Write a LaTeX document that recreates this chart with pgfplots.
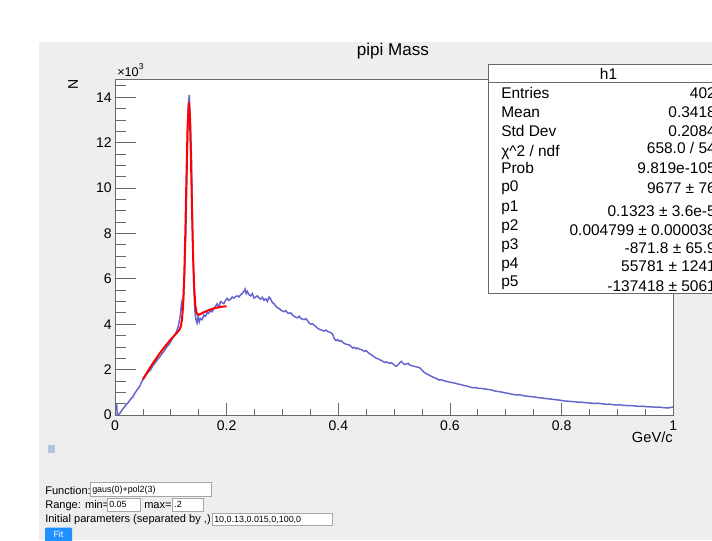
\documentclass[border=0pt]{standalone}
\usepackage{fontspec}
\setmainfont{Liberation Sans}
\usepackage{pgfplots}
\pgfplotsset{compat=1.18}
\definecolor{bggray}{RGB}{238,238,238}
\definecolor{histblue}{RGB}{100,100,205}
\definecolor{framegray}{RGB}{105,105,105}
\definecolor{fitblue}{RGB}{30,144,255}
\definecolor{iconblue}{RGB}{176,196,222}
\newcommand{\fs}[1]{\fontsize{#1}{#1}\selectfont}
\begin{document}
\begin{tikzpicture}
\useasboundingbox (0,0) rectangle (534pt,-405pt);
\clip (0,0) rectangle (534pt,-405pt);
\begin{scope}[x=0.75pt,y=-0.75pt]
\fill[white] (0,0) rectangle (712,540);
\fill[bggray] (39,42) rectangle (712,540);
\coordinate (O) at (115,415);
\end{scope}

\begin{axis}[at={(O)}, anchor=south west, scale only axis,
  width=418.7pt, height=251.8pt,
  xmin=0, xmax=1, ymin=0, ymax=14.79,
  axis background/.style={fill=white},
  axis line style={framegray, line width=0.6pt},
  tick style={framegray, line width=0.6pt},
  tick align=inside,
  xtick=\empty,
  ytick={0,2,4,6,8,10,12,14}, ytick pos=left,
  minor ytick={0.5,1,1.5,2.5,3,3.5,4.5,5,5.5,6.5,7,7.5,8.5,9,9.5,10.5,11,11.5,12.5,13,13.5,14.5},
  major tick length=15.75pt, minor tick length=8.25pt,
  /pgf/number format/assume math mode=true,
  yticklabel style={font=\fs{10.5}, anchor=east, inner sep=0pt, xshift=-2.3pt},
  clip=true]
\addplot[histblue, line width=1.1pt, sharp plot] coordinates {
(0.000,0.00)(0.001,0.48)(0.003,0.47)(0.004,0.02)(0.008,0.05)(0.012,0.20)(0.016,0.33)(0.020,0.45)
(0.024,0.56)(0.028,0.70)(0.032,0.80)(0.036,0.98)(0.040,1.12)(0.044,1.25)(0.048,1.48)(0.052,1.62)
(0.056,1.78)(0.060,1.90)(0.064,2.00)(0.068,2.18)(0.072,2.30)(0.076,2.44)(0.080,2.55)(0.084,2.70)
(0.088,2.82)(0.092,2.98)(0.096,3.08)(0.100,3.24)(0.104,3.42)(0.108,3.55)(0.112,3.80)(0.115,4.10)
(0.117,4.40)(0.119,4.90)(0.121,4.60)(0.123,5.20)(0.125,6.50)(0.127,8.20)(0.129,10.8)(0.131,13.5)
(0.133,14.1)(0.135,13.0)(0.137,11.3)(0.139,7.90)(0.141,5.80)(0.143,4.60)(0.145,4.20)(0.147,4.05)
(0.149,4.35)(0.151,4.10)(0.153,4.25)(0.156,4.20)(0.159,4.40)(0.162,4.35)(0.165,4.50)(0.168,4.48)
(0.171,4.60)(0.174,4.55)(0.177,4.70)(0.180,4.78)(0.183,4.90)(0.186,4.75)(0.189,5.00)(0.192,4.95)
(0.195,4.90)(0.198,5.05)(0.201,5.14)(0.204,5.05)(0.207,5.10)(0.210,5.20)(0.213,5.15)(0.216,5.22)
(0.219,5.25)(0.222,5.20)(0.225,5.30)(0.228,5.35)(0.231,5.45)(0.233,5.55)(0.235,5.35)(0.237,5.45)
(0.240,5.30)(0.243,5.25)(0.246,5.35)(0.249,5.15)(0.252,5.20)(0.255,5.25)(0.258,5.15)(0.261,5.10)
(0.264,5.18)(0.267,5.05)(0.270,5.12)(0.273,5.00)(0.276,5.20)(0.279,5.10)(0.282,4.95)(0.285,4.90)
(0.288,4.80)(0.291,4.72)(0.294,4.70)(0.297,4.62)(0.300,4.58)(0.303,4.55)(0.306,4.60)(0.309,4.50)
(0.312,4.48)(0.315,4.50)(0.318,4.40)(0.321,4.35)(0.324,4.30)(0.327,4.28)(0.330,4.35)(0.333,4.25)
(0.336,4.22)(0.339,4.20)(0.342,4.25)(0.345,4.15)(0.348,4.05)(0.351,4.00)(0.354,4.02)(0.357,3.95)
(0.360,3.90)(0.363,3.82)(0.366,3.78)(0.369,3.75)(0.372,3.72)(0.375,3.70)(0.378,3.74)(0.381,3.68)
(0.384,3.65)(0.387,3.62)(0.390,3.55)(0.393,3.35)(0.396,3.28)(0.399,3.32)(0.402,3.25)(0.405,3.28)
(0.408,3.20)(0.411,3.15)(0.414,3.12)(0.417,3.10)(0.420,3.08)(0.423,3.02)(0.426,2.95)(0.429,2.98)
(0.432,2.92)(0.435,2.95)(0.438,2.90)(0.441,2.88)(0.444,2.85)(0.447,2.80)(0.450,2.84)(0.453,2.76)
(0.456,2.70)(0.459,2.66)(0.462,2.60)(0.465,2.55)(0.468,2.50)(0.471,2.48)(0.474,2.44)(0.477,2.40)
(0.480,2.36)(0.483,2.32)(0.486,2.34)(0.489,2.30)(0.492,2.28)(0.495,2.30)(0.498,2.25)(0.501,2.18)
(0.504,2.15)(0.507,2.22)(0.510,2.30)(0.513,2.36)(0.516,2.28)(0.519,2.22)(0.522,2.25)(0.525,2.28)
(0.528,2.20)(0.531,2.18)(0.534,2.15)(0.537,2.14)(0.540,2.12)(0.543,2.10)(0.546,2.08)(0.549,2.00)
(0.552,1.92)(0.555,1.86)(0.558,1.82)(0.561,1.78)(0.564,1.74)(0.567,1.70)(0.570,1.66)(0.573,1.64)
(0.576,1.60)(0.579,1.56)(0.582,1.54)(0.585,1.55)(0.588,1.52)(0.591,1.50)(0.594,1.48)(0.597,1.46)
(0.600,1.45)(0.605,1.42)(0.610,1.40)(0.615,1.36)(0.620,1.34)(0.625,1.30)(0.630,1.28)(0.635,1.24)
(0.640,1.20)(0.645,1.21)(0.650,1.18)(0.655,1.17)(0.660,1.16)(0.665,1.14)(0.670,1.12)(0.675,1.10)
(0.680,1.06)(0.685,1.04)(0.690,1.02)(0.695,1.00)(0.700,0.97)(0.705,0.95)(0.710,0.92)(0.715,0.90)
(0.720,0.88)(0.725,0.89)(0.730,0.86)(0.735,0.84)(0.740,0.82)(0.745,0.81)(0.750,0.80)(0.755,0.78)
(0.760,0.76)(0.765,0.75)(0.770,0.73)(0.775,0.72)(0.780,0.70)(0.785,0.69)(0.790,0.67)(0.795,0.66)
(0.800,0.64)(0.805,0.62)(0.810,0.61)(0.815,0.60)(0.820,0.59)(0.825,0.58)(0.830,0.56)(0.835,0.57)
(0.840,0.55)(0.845,0.54)(0.850,0.53)(0.855,0.52)(0.860,0.51)(0.865,0.52)(0.870,0.50)(0.875,0.49)
(0.880,0.47)(0.885,0.48)(0.890,0.46)(0.895,0.45)(0.900,0.44)(0.905,0.45)(0.910,0.43)(0.915,0.42)
(0.920,0.41)(0.925,0.42)(0.930,0.40)(0.935,0.39)(0.940,0.38)(0.945,0.39)(0.950,0.37)(0.955,0.36)
(0.960,0.36)(0.965,0.35)(0.970,0.34)(0.975,0.35)(0.980,0.33)(0.985,0.32)(0.990,0.31)(0.995,0.33)
(1.000,0.36)};
\addplot[red, line width=1.5pt, sharp plot] coordinates {
(0.05,1.574)(0.06,1.980)(0.07,2.360)(0.08,2.711)(0.09,3.035)(0.10,3.332)(0.11,3.601)(0.115,3.741)
(0.118,3.910)(0.12,4.206)(0.122,4.854)(0.124,6.101)(0.126,8.062)(0.128,10.494)(0.130,12.684)
(0.1323,13.779)(0.134,13.224)(0.136,11.361)(0.138,8.988)(0.140,6.915)(0.142,5.532)(0.144,4.806)
(0.146,4.508)(0.148,4.419)(0.150,4.415)(0.16,4.535)(0.17,4.640)(0.18,4.717)(0.19,4.766)(0.20,4.788)};
\end{axis}

\begin{axis}[at={(O)}, anchor=south west, scale only axis,
  width=418.7pt, height=251.8pt,
  xmin=0, xmax=1, ymin=0, ymax=14.79,
  axis line style={draw=none},
  tick style={framegray, line width=0.6pt},
  tick align=inside,
  ytick=\empty,
  xtick={0,0.2,0.4,0.6,0.8,1}, xticklabels={0,0.2,0.4,0.6,0.8,1}, xtick pos=bottom,
  minor xtick={0.05,0.1,0.15,0.25,0.3,0.35,0.45,0.5,0.55,0.65,0.7,0.75,0.85,0.9,0.95},
  major tick length=9pt, minor tick length=4.5pt,
  xticklabel style={font=\fs{10.5}, anchor=north, inner sep=0pt, yshift=-4.3pt}]
\addplot[draw=none] coordinates {(0,0)(1,1)};
\end{axis}

\begin{scope}[x=0.75pt,y=-0.75pt]
% labels
\node[font=\fs{12.8}] at (393,51) {pipi Mass};
\node[font=\fs{10.5}, rotate=90] at (73,84) {N};
\node[font=\fs{9.5}, anchor=base west, inner sep=0pt] at (117,76) {×10\raisebox{0.9ex}{\fs{6.5}3}};
\node[font=\fs{11}, anchor=base east, inner sep=0pt] at (673,442.5) {GeV/c};
% stats box
\draw[framegray, line width=0.6pt, fill=white] (488.5,64) rectangle (729,293);
\draw[framegray, line width=0.6pt] (488.5,82) -- (729,82);
\node[font=\fs{11.6}, anchor=base, inner sep=0pt] at (608.5,79.5) {h1};
\begin{scope}[every node/.style={font=\fs{11.6}, inner sep=0pt}]
\node[anchor=base west] at (501,98.3) {Entries};
\node[anchor=base west] at (501,117.5) {Mean};
\node[anchor=base west] at (501,136.5) {Std Dev};
\node[anchor=base west] at (501,156) {χ\^{}2 / ndf};
\node[anchor=base west] at (501,173.3) {Prob};
\node[anchor=base west] at (501,191.7) {p0};
\node[anchor=base west] at (501,211.5) {p1};
\node[anchor=base west] at (501,230.5) {p2};
\node[anchor=base west] at (501,249.3) {p3};
\node[anchor=base west] at (501,268.3) {p4};
\node[anchor=base west] at (501,286.7) {p5};
\node[anchor=base east] at (716,98.3) {402};
\node[anchor=base east] at (716,117.5) {0.3418};
\node[anchor=base east] at (716,136.5) {0.2084};
\node[anchor=base east] at (716,153.3) {658.0 / 54};
\node[anchor=base east] at (716,173.3) {9.819e-105};
\node[anchor=base east] at (716,193.3) {9677 ± 76};
\node[anchor=base east] at (716,216.7) {0.1323 ± 3.6e-5};
\node[anchor=base east] at (716,235) {0.004799 ± 0.000038};
\node[anchor=base east] at (716,253.3) {-871.8 ± 65.9};
\node[anchor=base east] at (716,271.7) {55781 ± 1241};
\node[anchor=base east] at (716,291.7) {-137418 ± 5061};
\end{scope}
% form controls
\fill[iconblue] (47.5,445) rectangle (55,452.5);
\begin{scope}[every node/.style={font=\fs{8.3}, inner sep=0pt, anchor=base west}]
\node at (45,494) {Function:};
\node at (45,508) {Range: min=};
\node at (144,508) {max=};
\node at (45,522) {Initial parameters (separated by ,)};
\end{scope}
\draw[black!35, fill=white, line width=0.5pt] (90,482.5) rectangle (211,496.5);
\draw[black!35, fill=white, line width=0.5pt] (107,498) rectangle (140,511);
\draw[black!35, fill=white, line width=0.5pt] (172,498) rectangle (203,511);
\draw[black!35, fill=white, line width=0.5pt] (212,513) rectangle (332,525.5);
\begin{scope}[every node/.style={font=\fs{6.7}, inner sep=0pt, anchor=base west}]
\node at (92,492.5) {gaus(0)+pol2(3)};
\node at (109,507.5) {0.05};
\node at (174,507.5) {.2};
\node at (214,522) {10,0.13,0.015,0,100,0};
\end{scope}
\fill[fitblue, rounded corners=1pt] (45,527.5) rectangle (72,545);
\node[font=\fs{6.7}, text=white, inner sep=0pt, anchor=base] at (58.5,537) {Fit};
\end{scope}
\end{tikzpicture}
\end{document}
